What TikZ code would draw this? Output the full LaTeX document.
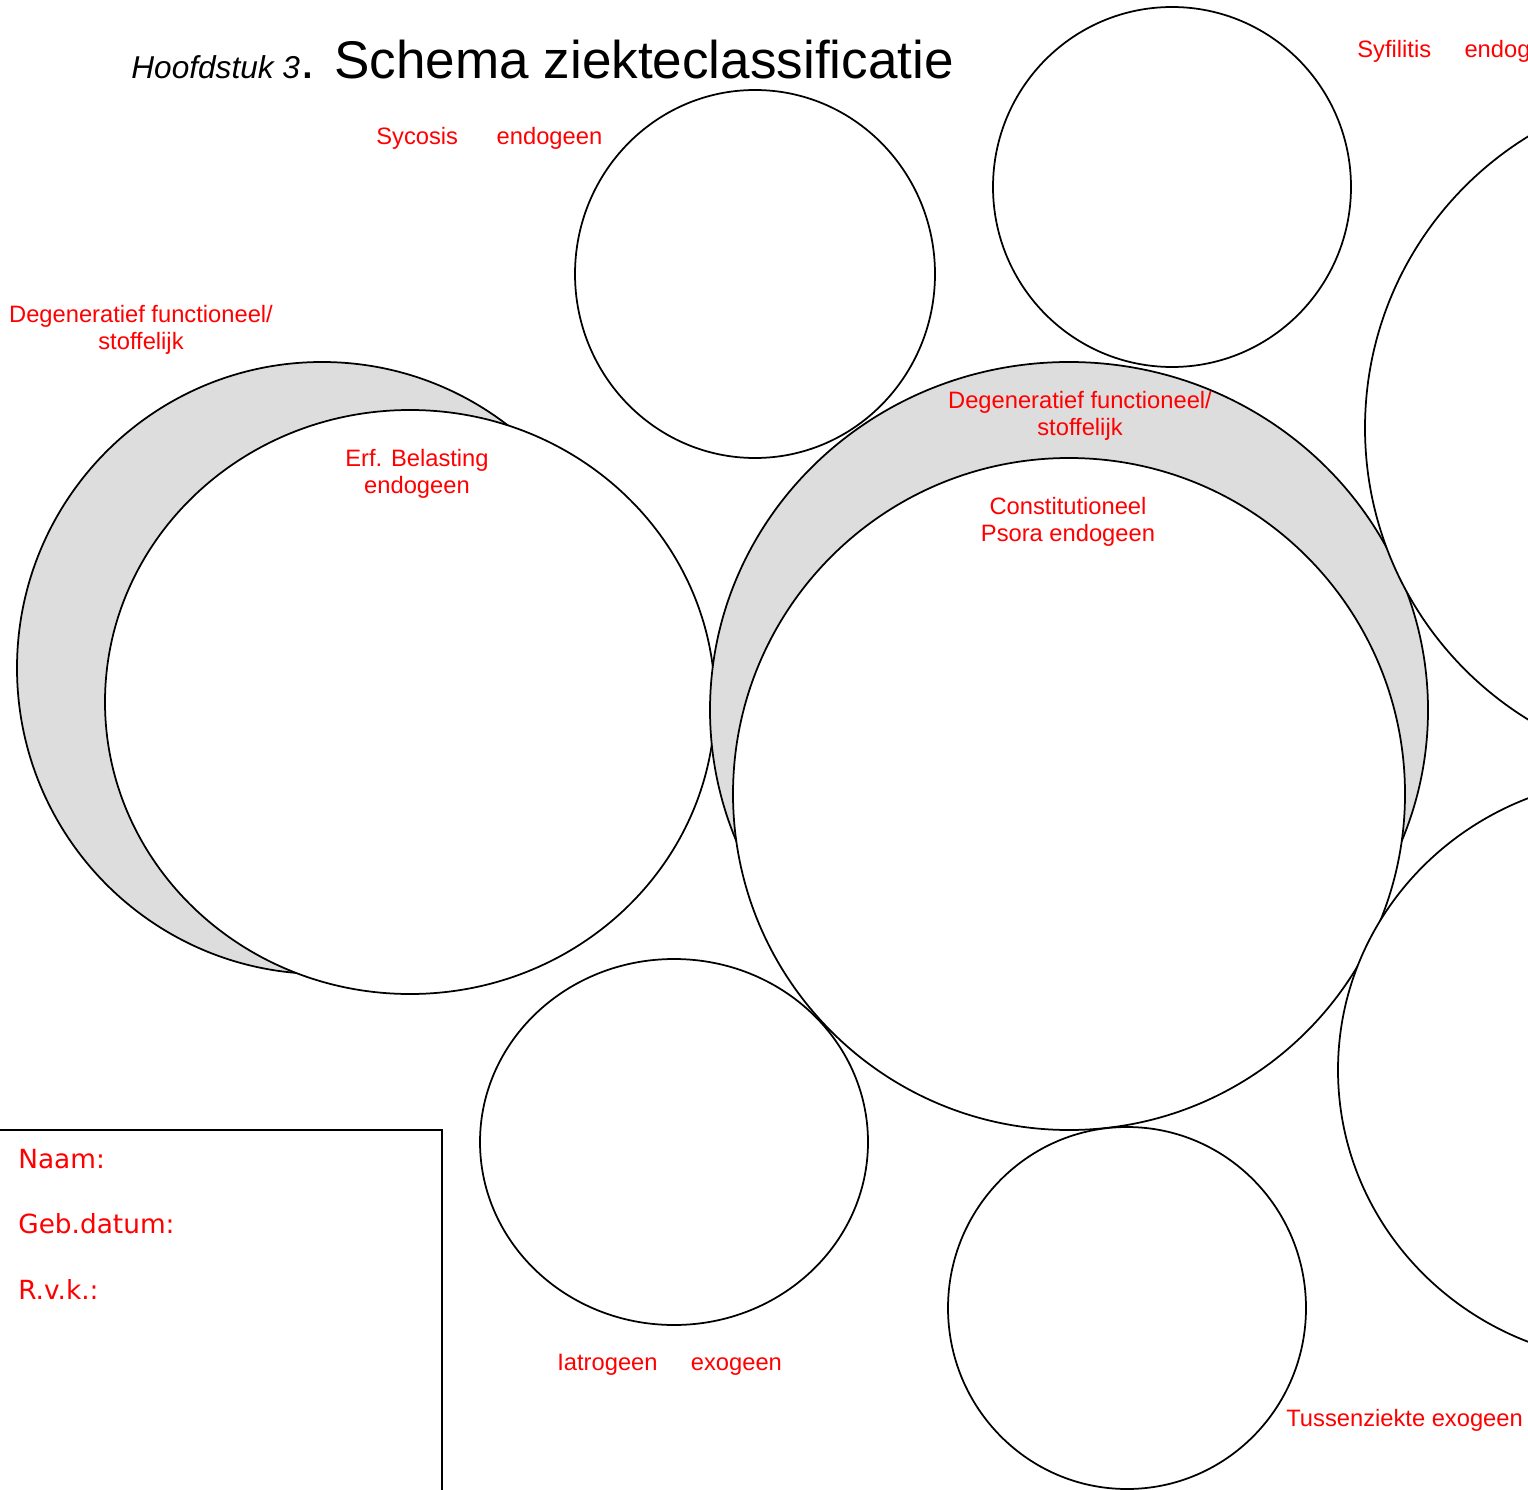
\documentclass[tikz,border=0pt]{standalone}
\usepackage{fontspec}
\setmainfont{Liberation Sans}
\newfontfamily\boxfont{DejaVu Sans}
\usepackage{xcolor}
\usepackage{tikz}
\definecolor{bandgrey}{RGB}{221,221,221}
\tikzset{
  ring/.style={draw=black, line width=0.035cm, fill=white},
  band/.style={ring, fill=bandgrey},
  redlabel/.style={text=red, font=\fontsize{13.5}{15}\selectfont, align=center, inner sep=0pt},
  boxlabel/.style={text=red, font=\boxfont\fontsize{15}{18}\selectfont, anchor=west, inner sep=0pt}
}

\begin{document}
\begin{tikzpicture}[x=0.02cm,y=-0.02cm]
            \useasboundingbox (0,0) rectangle (1528,1490);

            % Title
            \node (title) [anchor=base west, inner sep=0pt] at (131,79) {{\itshape\fontsize{18}{20}\selectfont Hoofdstuk 3}\fontsize{30.2}{34}\selectfont . Schema ziekteclassificatie};%

            % Drawing band and circle Erf. Belasting
            \draw [band] (322,668) ellipse [x radius=305, y radius=306];%
            \draw [ring] (410,702) ellipse [x radius=305, y radius=292];%

            % Drawing band and circle Constitutioneel
            \draw [band] (1069,710) ellipse [x radius=359, y radius=348];%
            \draw [ring] (1069,794) ellipse [x radius=336, y radius=336];%

            % Drawing circle Sycosis
            \draw [ring] (755,274) ellipse [x radius=180, y radius=184];%

            % Drawing empty circle top right
            \draw [ring] (1172,187) ellipse [x radius=179, y radius=180];%

            % Drawing circle Syfilitis
            \draw [ring] (1707,428) ellipse [x radius=342, y radius=342];%

            % Drawing circle Iatrogeen
            \draw [ring] (674,1142) ellipse [x radius=194, y radius=183];%

            % Drawing circle Tussenziekte
            \draw [ring] (1127,1308) ellipse [x radius=179, y radius=181];%

            % Drawing circle bottom right
            \draw [ring] (1638,1070) ellipse [x radius=300, y radius=292];%

            % Drawing box with patient data
            \draw [line width=0.035cm] (-5,1130) rectangle (442,1495);%

            % Marking the labels
            \node (sycosis) [redlabel, anchor=base west] at (376,145) {Sycosis\hspace{22pt}endogeen};%
            \node (syfilitis) [redlabel, anchor=base west] at (1357,58) {Syfilitis\hspace{19pt}endogeen};%
            \node (degleft) [redlabel] at (141,330) {Degeneratief functioneel/\\stoffelijk};%
            \node (degmid) [redlabel] at (1080,416) {Degeneratief functioneel/\\stoffelijk};%
            \node (erf) [redlabel] at (417,474) {Erf. Belasting\\endogeen};%
            \node (psora) [redlabel] at (1068,522) {Constitutioneel\\Psora endogeen};%
            \node (iatro) [redlabel, anchor=west] at (557,1365) {Iatrogeen\hspace{19pt}exogeen};%
            \node (tussen) [redlabel, anchor=west] at (1286,1420) {Tussenziekte exogeen};%

            % Marking the box texts
            \node (naam) [boxlabel] at (18,1159) {Naam:};%
            \node (gebdatum) [boxlabel] at (18,1224) {Geb.datum:};%
            \node (rvk) [boxlabel] at (18,1289) {R.v.k.:};%
        \end{tikzpicture}
\end{document}
